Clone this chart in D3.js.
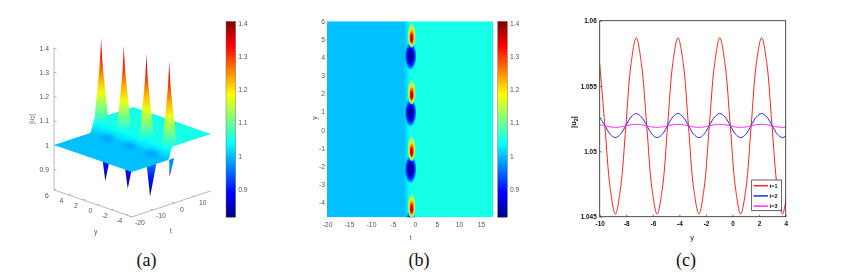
<!DOCTYPE html>
<html>
<head>
<meta charset="utf-8">
<script src="https://d3js.org/d3.v7.min.js"></script>
<style>
  html, body { margin: 0; padding: 0; background: #fff; }
  svg { display: block; }
  text { font-family: "Liberation Sans", Arial, sans-serif; }
  .gray text, text.gray { fill: #555; font-size: 6.8px; }
  .gray path, .gray line { stroke: #888; stroke-width: 0.6; }
  .black text, text.black { fill: #111; font-size: 6.4px; font-weight: bold; }
  .caption { font-family: "Liberation Serif", serif; font-size: 18px; fill: #111; text-anchor: middle; }
</style>
</head>
<body>
<svg id="chart" width="845" height="277"></svg>
<script>
// colour map (jet) shared by panels a and b
const JET_COLORS = ["#000080", "#0000ff", "#00ffff", "#ffff00", "#ff0000", "#800000"];
const Z_MIN = 0.815;
const Z_MAX = 1.405;
const COLORBAR_TICKS = [0.9, 1, 1.1, 1.2, 1.3, 1.4];

// step across t, far from the lobes
const stepT = [-20, -2.7, -2.2, -1.7, -1.2, -0.6, 17.8];
const stepZ = [1, 1, 1.008, 1.025, 1.042, 1.05, 1.05];

// lobes: all sit near t = -1
const redLobeY = [4.97, 1.83, -1.3, -4.46];
const blueLobeY = [4.08, 0.95, -2.18, -5.25];
const redLobeT = -0.75;
const blueLobeT = -1.0;

// spike outline: half width in t for each height
const spikeZ = [1.4, 1.35, 1.3, 1.25, 1.2, 1.15, 1.1, 1.06, 1.03, 1.01];
const spikeW = [0, 0.25, 0.6, 1.1, 1.7, 2.3, 2.9, 3.4, 4.4, 6.4];
// dips below the plate
const dipY = [4.1, 1, -2.1, -4.8];
const dipLow = [0.82, 0.82, 0.82, 0.93];
const dipHalfT = [3.6, 3.6, 3.2, 1.2];
const dipTipT = -2;

// panel a / b ticks
const tTicks3d = [-20, -10, 0, 10];
const yTicks3d = [6, 4, 2, 0, -2, -4];
const zTicks3d = [0.9, 1, 1.1, 1.2, 1.3, 1.4];
const tTicks = [-20, -15, -10, -5, 0, 5, 10, 15];
const yTicks = [6, 5, 4, 3, 2, 1, 0, -1, -2, -3, -4];

// panel c: |u2| against y at three times
const lineY = [-10, -9.61, -9.21, -8.82, -8.43, -8.03, -7.64, -7.25, -6.86, -6.46, -6.07, -5.68, -5.28, -4.89, -4.5, -4.11, -3.71, -3.32, -2.93, -2.53, -2.14, -1.75, -1.35, -0.96, -0.57, -0.17, 0.22, 0.61, 1.01, 1.4, 1.79, 2.19, 2.58, 2.97, 3.37, 3.76, 4.15];
const lineT1 = [1.05672, 1.05195, 1.04718, 1.0452, 1.04718, 1.05195, 1.05672, 1.0587, 1.05672, 1.05195, 1.04718, 1.0452, 1.04718, 1.05195, 1.05672, 1.0587, 1.05672, 1.05195, 1.04718, 1.0452, 1.04718, 1.05195, 1.05672, 1.0587, 1.05672, 1.05195, 1.04718, 1.0452, 1.04718, 1.05195, 1.05672, 1.0587, 1.05672, 1.05195, 1.04718, 1.0452, 1.04718];
const lineT2 = [1.05263, 1.05198, 1.05132, 1.05105, 1.05132, 1.05198, 1.05263, 1.0529, 1.05263, 1.05198, 1.05132, 1.05105, 1.05132, 1.05198, 1.05263, 1.0529, 1.05263, 1.05198, 1.05132, 1.05105, 1.05132, 1.05198, 1.05263, 1.0529, 1.05263, 1.05198, 1.05132, 1.05105, 1.05132, 1.05198, 1.05263, 1.0529, 1.05263, 1.05198, 1.05132, 1.05105, 1.05132];
const lineT3 = [1.05204, 1.05196, 1.05187, 1.05184, 1.05187, 1.05196, 1.05204, 1.05207, 1.05204, 1.05196, 1.05187, 1.05184, 1.05187, 1.05196, 1.05204, 1.05207, 1.05204, 1.05196, 1.05187, 1.05184, 1.05187, 1.05196, 1.05204, 1.05207, 1.05204, 1.05196, 1.05187, 1.05184, 1.05187, 1.05196, 1.05204, 1.05207, 1.05204, 1.05196, 1.05187, 1.05184, 1.05187];
const lineNames = ["t=1", "t=2", "t=3"];
const lineColors = ["#f52828", "#2030e0", "#ff30f0"];
const xTicksC = [-10, -8, -6, -4, -2, 0, 2, 4];
const yTicksC = [1.045, 1.05, 1.055, 1.06];
const yTickLabelsC = ["1.045", "1.05", "1.055", "1.06"];

const svg = d3.select("#chart");
const defs = svg.append("defs");
defs.append("filter").attr("id", "soft").attr("x", "-5%").attr("y", "-5%").attr("width", "110%").attr("height", "110%")
  .append("feGaussianBlur").attr("stdDeviation", 0.45);
defs.append("filter").attr("id", "dimple").attr("x", "-50%").attr("y", "-50%").attr("width", "200%").attr("height", "200%")
  .append("feGaussianBlur").attr("stdDeviation", 2);

const root = svg.append("g").attr("filter", "url(#soft)");

const jetFrac = d3.scaleLinear().domain([Z_MIN, Z_MAX]).range([0, 1]);
const jetRamp = d3.scaleLinear().domain([0, 0.125, 0.375, 0.625, 0.875, 1]).range(JET_COLORS).clamp(true);
const jet = (z) => jetRamp(jetFrac(z));

function addStops(grad, stops) {
  stops.forEach(([offset, z, opacity]) => {
    grad.append("stop")
      .attr("offset", offset)
      .attr("stop-color", jet(z))
      .attr("stop-opacity", opacity === undefined ? 1 : opacity);
  });
}

function drawColorbar(x, id) {
  const top = 21.3, bottom = 217.3, w = 9.7;
  const scale = d3.scaleLinear().domain([Z_MIN, Z_MAX]).range([bottom, top]);
  const grad = defs.append("linearGradient").attr("id", id)
    .attr("x1", 0).attr("x2", 0).attr("y1", 1).attr("y2", 0);
  addStops(grad, d3.range(0, 1.001, 0.125).map((f) => [f, Z_MIN + f * (Z_MAX - Z_MIN)]));
  root.append("rect").attr("x", x).attr("y", top).attr("width", w).attr("height", bottom - top)
    .attr("fill", `url(#${id})`).attr("stroke", "#777").attr("stroke-width", 0.5);
  root.append("g").attr("class", "gray").attr("transform", `translate(${x + w},0)`)
    .call(d3.axisRight(scale).tickValues(COLORBAR_TICKS).tickSize(0).tickPadding(2.5).tickFormat(String))
    .call((g) => g.select(".domain").remove());
}

// Panel a: plate seen from above, spikes and dips projected by hand
function drawSurface() {
  const g = root.append("g");
  const px = d3.scaleLinear().domain([-20, 17.8]).range([0, 79]);
  const py = d3.scaleLinear().domain([6, -4.8]).range([0, 78]);
  const zPx = d3.scaleLinear().domain([1, 1.4]).range([0, -97]);
  const project = (y, t, z) => [
    54 + py(y) + px(t),
    145 + py(y) * 27 / 78 - px(t) * 26 / 79 + zPx(z),
  ];
  const path = d3.line();

  // axes
  const axes = g.append("g").attr("class", "gray");
  const zFloor = Z_MIN;
  const corner = project(6, -20, zFloor);
  const front = project(-4.8, -20, zFloor);
  const right = project(-4.8, 17.8, zFloor);
  axes.append("path").attr("fill", "none").attr("d", path([project(6, -20, 1.4), corner, front, right]));
  zTicks3d.forEach((z) => {
    const [x, y] = project(6, -20, z);
    axes.append("line").attr("x1", x).attr("x2", x + 2.5).attr("y1", y).attr("y2", y + 0.8);
    axes.append("text").attr("x", x - 5).attr("y", y + 2.5).attr("text-anchor", "end").text(z);
  });
  yTicks3d.forEach((v) => {
    const [x, y] = project(v, -20, zFloor);
    axes.append("line").attr("x1", x).attr("x2", x + 2).attr("y1", y).attr("y2", y - 0.7);
    axes.append("text").attr("x", x - 7).attr("y", y + 8.5).attr("text-anchor", "middle").text(v);
  });
  tTicks3d.forEach((v) => {
    const [x, y] = project(-4.8, v, zFloor);
    axes.append("line").attr("x1", x).attr("x2", x - 2).attr("y1", y).attr("y2", y - 0.7);
    axes.append("text").attr("x", x + 8).attr("y", y + 8.5).attr("text-anchor", "middle").text(v);
  });
  axes.append("text").attr("x", 95.7).attr("y", 233.5).attr("text-anchor", "middle").text("y");
  axes.append("text").attr("x", 170.7).attr("y", 233).attr("text-anchor", "middle").text("t");
  axes.append("text").attr("transform", "translate(33.5,119) rotate(-90)").attr("text-anchor", "middle")
    .call((t) => { t.append("tspan").text("|u"); t.append("tspan").attr("font-size", 5).attr("dy", 1.5).text("2"); t.append("tspan").attr("dy", -1.5).text("|"); });

  // dips hang below the plate, so they go first
  dipY.forEach((y, i) => {
    const id = `dip${i}`;
    const tip = project(y, dipTipT, dipLow[i]);
    const top = project(y, -1, 1);
    const grad = defs.append("linearGradient").attr("id", id).attr("gradientUnits", "userSpaceOnUse")
      .attr("x1", 0).attr("x2", 0).attr("y1", top[1] + 10).attr("y2", tip[1]);
    addStops(grad, [[0, 0.97], [0.45, 0.9], [1, 0.82]]);
    g.append("path").attr("fill", `url(#${id})`).attr("d", path([
      project(y, -1 - dipHalfT[i], 1), project(y, -1 + dipHalfT[i], 1), tip,
    ]));
  });

  // plate: one polygon, gradient runs square to the y edge of the plate
  const [ex, ey] = [78 / 82.5, 27 / 82.5];
  const [nx, ny] = [ey, -ex];
  const start = project(-4.8, stepT[1], stepZ[1]);
  const along = (t, z) => {
    const p = project(-4.8, t, z);
    return (p[0] - start[0]) * nx + (p[1] - start[1]) * ny;
  };
  const span = along(stepT[5], stepZ[5]);
  const plateGrad = defs.append("linearGradient").attr("id", "plate").attr("gradientUnits", "userSpaceOnUse")
    .attr("x1", start[0]).attr("y1", start[1])
    .attr("x2", start[0] + nx * span).attr("y2", start[1] + ny * span);
  addStops(plateGrad, stepT.slice(1, 6).map((t, i) => [along(t, stepZ[i + 1]) / span, stepZ[i + 1]]));
  const backEdge = stepT.map((t, i) => project(6, t, stepZ[i]));
  const frontEdge = stepT.map((t, i) => project(-4.8, t, stepZ[i])).reverse();
  g.append("path").attr("fill", "url(#plate)").attr("d", path([...backEdge, ...frontEdge]) + "Z");

  // shallow blue hollows left on the plate by the dips
  dipY.slice(0, 3).forEach((y) => {
    const [x, yy] = project(y, -1, 1);
    g.append("ellipse").attr("cx", x).attr("cy", yy + 1).attr("rx", 6.5).attr("ry", 3)
      .attr("fill", jet(0.96)).attr("opacity", 0.55).attr("filter", "url(#dimple)");
  });

  // spikes, back to front. only the first one shows its foot against the white
  redLobeY.forEach((y, i) => {
    const id = `spike${i}`;
    const top = project(y, -1, spikeZ[0]);
    const low = project(y, -1, 1);
    const grad = defs.append("linearGradient").attr("id", id).attr("gradientUnits", "userSpaceOnUse")
      .attr("x1", 0).attr("x2", 0).attr("y1", low[1]).attr("y2", top[1]);
    const footOpacity = i === 0 ? 1 : 0;
    addStops(grad, [[0, 1, footOpacity], [0.03, 1.012, i === 0 ? 1 : 0.25], [0.12, 1.048]]
      .concat(d3.range(1, 8).map((k) => [k / 7, 1 + k * 0.4 / 7])));
    const leftSide = spikeZ.map((z, k) => project(y, -1 - spikeW[k], z));
    // the step behind the spike hides its right foot
    const rightSide = spikeZ.filter((z) => z >= 1.06).map((z, k) => project(y, -1 + spikeW[k], z));
    g.append("path").attr("fill", `url(#${id})`)
      .attr("d", d3.line().curve(d3.curveCatmullRom)([...leftSide.reverse(), ...rightSide]) + "Z");
  });

  drawColorbar(226, "barA");
}

// Panel b: top view of the same field
function drawHeatmap() {
  const x = d3.scaleLinear().domain([-20, 17.8]).range([327, 493.3]);
  const y = d3.scaleLinear().domain([6, -4.83]).range([21.3, 217.3]);
  const tSpan = (t) => (t + 20) / 37.8;

  const bg = defs.append("linearGradient").attr("id", "heatBg");
  addStops(bg, stepT.map((t, i) => [tSpan(t), stepZ[i]]));
  defs.append("clipPath").attr("id", "heatClip").append("rect")
    .attr("x", x(-20)).attr("y", y(6)).attr("width", x(17.8) - x(-20)).attr("height", y(-4.83) - y(6));

  const g = root.append("g").attr("clip-path", "url(#heatClip)");
  g.append("rect").attr("x", x(-20)).attr("y", y(6)).attr("width", x(17.8) - x(-20)).attr("height", y(-4.83) - y(6))
    .attr("fill", "url(#heatBg)");

  const redGrad = defs.append("radialGradient").attr("id", "redLobe")
    .attr("cx", 0.5).attr("cy", 0.5).attr("r", 0.5).attr("fx", 0.5).attr("fy", 0.7);
  addStops(redGrad, [[0, 1.4], [0.3, 1.33], [0.5, 1.22], [0.65, 1.15], [0.85, 1.08], [1, 1.05, 0]]);
  const blueGrad = defs.append("radialGradient").attr("id", "blueLobe");
  addStops(blueGrad, [[0, 0.82], [0.35, 0.84], [0.6, 0.9], [0.8, 0.96], [1, 1.0, 0]]);

  g.selectAll(".blue").data(blueLobeY).join("ellipse").attr("class", "blue")
    .attr("cx", x(blueLobeT)).attr("cy", (d) => y(d))
    .attr("rx", x(0.4) - x(-1)).attr("ry", y(0) - y(0.8))
    .attr("fill", "url(#blueLobe)");
  g.selectAll(".red").data(redLobeY).join("ellipse").attr("class", "red")
    .attr("cx", x(redLobeT)).attr("cy", (d) => y(d + 0.3))
    .attr("rx", x(0) - x(-1)).attr("ry", y(0) - y(0.75))
    .attr("fill", "url(#redLobe)");

  const axes = root.append("g").attr("class", "gray");
  axes.append("g").attr("transform", `translate(0,${y(-4.83)})`)
    .call(d3.axisBottom(x).tickValues(tTicks).tickSize(0).tickPadding(5).tickFormat(String))
    .call((a) => a.select(".domain").remove());
  axes.append("g").attr("transform", `translate(${x(-20)},0)`)
    .call(d3.axisLeft(y).tickValues(yTicks).tickSize(0).tickPadding(2).tickFormat(String))
    .call((a) => a.select(".domain").remove());
  axes.append("text").attr("x", 410.7).attr("y", 240).attr("text-anchor", "middle").text("t");
  axes.append("text").attr("transform", "translate(317,118) rotate(-90)").attr("text-anchor", "middle").text("y");

  drawColorbar(497.7, "barB");
}

// Panel c
function drawLines() {
  const x = d3.scaleLinear().domain([-10, 4]).range([599.7, 785.7]);
  const y = d3.scaleLinear().domain([1.045, 1.06]).range([216.7, 20.7]);
  const series = [lineT1, lineT2, lineT3];

  defs.append("clipPath").attr("id", "lineClip").append("rect")
    .attr("x", x(-10)).attr("y", y(1.06)).attr("width", x(4) - x(-10)).attr("height", y(1.045) - y(1.06));

  const line = d3.line().x((d, i) => x(lineY[i])).y((d) => y(d)).curve(d3.curveCatmullRom);
  const g = root.append("g").attr("clip-path", "url(#lineClip)");
  series.forEach((values, i) => {
    g.append("path").attr("d", line(values)).attr("fill", "none").attr("stroke", lineColors[i]).attr("stroke-width", 1);
  });

  const axes = root.append("g").attr("class", "black");
  axes.append("rect").attr("x", x(-10)).attr("y", y(1.06)).attr("width", x(4) - x(-10)).attr("height", y(1.045) - y(1.06))
    .attr("fill", "none").attr("stroke", "#222").attr("stroke-width", 0.8);
  axes.append("g").attr("transform", `translate(0,${y(1.045)})`)
    .call(d3.axisBottom(x).tickValues(xTicksC).tickSize(-2).tickPadding(5).tickFormat(String))
    .call((a) => a.select(".domain").remove());
  axes.append("g").attr("transform", `translate(${x(-10)},0)`)
    .call(d3.axisLeft(y).tickValues(yTicksC).tickSize(-2).tickPadding(3).tickFormat((d, i) => yTickLabelsC[i]))
    .call((a) => a.select(".domain").remove());
  axes.selectAll("line").attr("stroke", "#222").attr("stroke-width", 0.6);
  axes.append("text").attr("x", 692).attr("y", 240).attr("text-anchor", "middle").style("font-size", "7.5px").style("font-weight", "normal").text("y");
  axes.append("text").attr("transform", "translate(576,122) rotate(-90)").attr("text-anchor", "middle").style("font-size", "7.5px")
    .call((t) => { t.append("tspan").text("|u"); t.append("tspan").style("font-size", "5.5px").attr("dy", 1.5).text("2"); t.append("tspan").attr("dy", -1.5).text("|"); });

  // legend
  const legend = axes.append("g");
  legend.append("rect").attr("x", 751.7).attr("y", 180).attr("width", 30).attr("height", 30.7)
    .attr("fill", "#fff").attr("stroke", "#222").attr("stroke-width", 0.7);
  lineNames.forEach((name, i) => {
    const ly = 185.7 + i * 10.2;
    legend.append("line").attr("x1", 753.5).attr("x2", 768).attr("y1", ly).attr("y2", ly)
      .attr("stroke", lineColors[i]).attr("stroke-width", 1.5);
    legend.append("text").attr("x", 769.5).attr("y", ly + 2.1).style("font-size", "5.5px").text(name);
  });
}

drawSurface();
drawHeatmap();
drawLines();

svg.selectAll(".caption").data([["(a)", 146.5], ["(b)", 419], ["(c)", 686]]).join("text")
  .attr("class", "caption").attr("x", (d) => d[1]).attr("y", 266).text((d) => d[0]);
</script>
</body>
</html>
